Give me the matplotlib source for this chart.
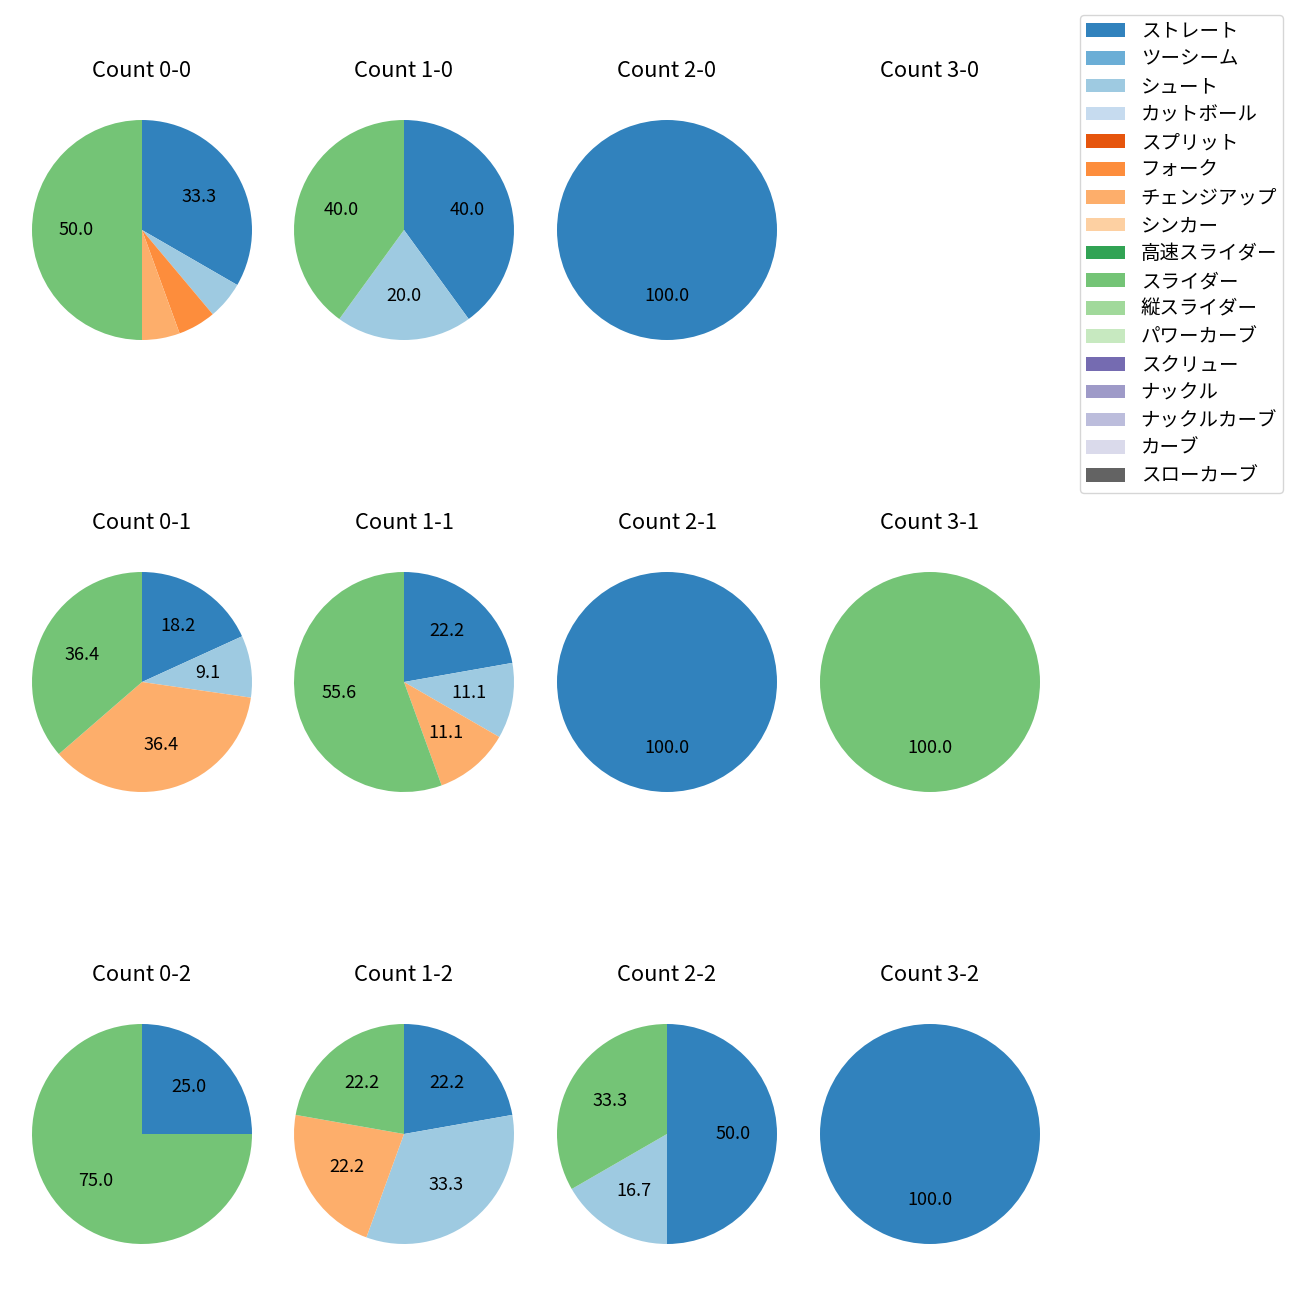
import matplotlib
matplotlib.use("Agg")
import matplotlib.pyplot as plt
from matplotlib.patches import Patch
import numpy as np

plt.rcParams['font.family'] = ['Noto Sans CJK JP', 'DejaVu Sans']

pitch_types = ['ストレート', 'ツーシーム', 'シュート', 'カットボール', 'スプリット', 'フォーク',
               'チェンジアップ', 'シンカー', '高速スライダー', 'スライダー', '縦スライダー',
               'パワーカーブ', 'スクリュー', 'ナックル', 'ナックルカーブ', 'カーブ', 'スローカーブ']

# pitch counts per ball-strike count
counts_0_0 = {'ストレート': 6, 'シュート': 1, 'フォーク': 1, 'チェンジアップ': 1, 'スライダー': 9}
counts_1_0 = {'ストレート': 2, 'シュート': 1, 'スライダー': 2}
counts_2_0 = {'ストレート': 1}
counts_3_0 = {}
counts_0_1 = {'ストレート': 2, 'シュート': 1, 'チェンジアップ': 4, 'スライダー': 4}
counts_1_1 = {'ストレート': 2, 'シュート': 1, 'チェンジアップ': 1, 'スライダー': 5}
counts_2_1 = {'ストレート': 1}
counts_3_1 = {'スライダー': 1}
counts_0_2 = {'ストレート': 1, 'スライダー': 3}
counts_1_2 = {'ストレート': 2, 'シュート': 3, 'チェンジアップ': 2, 'スライダー': 2}
counts_2_2 = {'ストレート': 3, 'シュート': 1, 'スライダー': 2}
counts_3_2 = {'ストレート': 1}

grid = [
    [('0-0', counts_0_0), ('1-0', counts_1_0), ('2-0', counts_2_0), ('3-0', counts_3_0)],
    [('0-1', counts_0_1), ('1-1', counts_1_1), ('2-1', counts_2_1), ('3-1', counts_3_1)],
    [('0-2', counts_0_2), ('1-2', counts_1_2), ('2-2', counts_2_2), ('3-2', counts_3_2)],
]

cmap = plt.get_cmap('tab20c')
colors = {p: cmap(i) for i, p in enumerate(pitch_types)}

fig = plt.figure(figsize=(13, 13), dpi=100)
W, H = 1300, 1300
col_centers = [142, 404, 667, 930]
row_centers = [230, 682, 1134]
aw, ah = 275, 275

def autopct(p):
    return f'{p:.1f}' if p >= 7 else ''

for r, row in enumerate(grid):
    for c, (label, data) in enumerate(row):
        cx, cy = col_centers[c], row_centers[r]
        ax = fig.add_axes([(cx - aw / 2) / W, 1 - (cy + ah / 2) / H, aw / W, ah / H])
        ax.set_title(f'Count {label}', fontsize=15.8, pad=11.5)
        if data:
            names = [p for p in pitch_types if p in data]
            vals = [data[p] for p in names]
            ax.pie(vals, colors=[colors[p] for p in names], startangle=90,
                   counterclock=False, autopct=autopct, textprops={'fontsize': 13})
        else:
            ax.axis('off')

handles = [Patch(facecolor=colors[p], label=p) for p in pitch_types]
fig.legend(handles=handles, loc='upper right', bbox_to_anchor=(1283 / W, 1 - 15 / H),
           borderaxespad=0, fontsize=14, labelspacing=0.35, borderpad=0.3)

fig.savefig('out.png', dpi=100)
